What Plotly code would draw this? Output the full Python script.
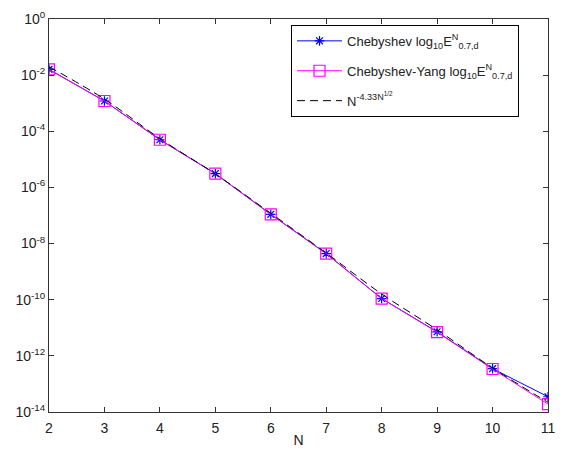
import plotly.graph_objects as go

N = [2, 3, 4, 5, 6, 7, 8, 9, 10, 11]
cheb = [1.6e-2, 1.2e-3, 5.0e-5, 3.1e-6, 1.1e-7, 4.4e-9, 1.1e-10, 7.2e-12, 3.5e-13, 3.5e-14]
yang = [1.6e-2, 1.2e-3, 5.0e-5, 3.1e-6, 1.1e-7, 4.4e-9, 1.1e-10, 7.0e-12, 3.4e-13, 1.9e-14]
ref = [2.0e-2, 1.4e-3, 5.5e-5, 3.0e-6, 1.2e-7, 4.6e-9, 1.6e-10, 8.5e-12, 3.7e-13, 2.2e-14]

ytick_vals = [1e0, 1e-2, 1e-4, 1e-6, 1e-8, 1e-10, 1e-12, 1e-14]
ytick_text = ["10<sup>0</sup>", "10<sup>-2</sup>", "10<sup>-4</sup>", "10<sup>-6</sup>",
              "10<sup>-8</sup>", "10<sup>-10</sup>", "10<sup>-12</sup>", "10<sup>-14</sup>"]

fig = go.Figure()
fig.add_trace(go.Scatter(
    x=N, y=cheb, mode="lines+markers", legendgroup="a",
    name="Chebyshev log<sub>10</sub>E<sup>N</sup><sub>0.7,d</sub>",
    line=dict(color="rgb(0,0,255)", width=1),
    marker=dict(symbol="asterisk-open", size=8, color="rgb(0,0,255)",
                line=dict(color="rgb(0,0,255)", width=1.2)),
))
fig.add_trace(go.Scatter(
    x=N, y=yang, mode="lines+markers", legendgroup="b",
    name="Chebyshev-Yang log<sub>10</sub>E<sup>N</sup><sub>0.7,d</sub>",
    line=dict(color="rgb(255,0,255)", width=1),
    marker=dict(symbol="square-open", size=11, color="rgb(255,0,255)",
                line=dict(color="rgb(255,0,255)", width=1.2)),
))
fig.add_trace(go.Scatter(
    x=N, y=ref, mode="lines", legendgroup="c",
    name="N<sup>-4.33N<sup>1/2</sup></sup>",
    line=dict(color="black", width=1, dash="8px,5px", shape="spline"),
))

axis_common = dict(
    showline=True, linecolor="#333", linewidth=1, mirror="ticks",
    ticks="inside", ticklen=5, tickcolor="#333", showgrid=False, zeroline=False,
    automargin=False, ticklabeloverflow="allow",
    tickfont=dict(family="Liberation Sans, Arial, sans-serif", size=14, color="#222"),
)

fig.update_layout(
    width=556, height=440,
    margin=dict(l=41, r=16, t=11, b=36, autoexpand=False),
    paper_bgcolor="white", plot_bgcolor="white",
    font=dict(family="Liberation Sans, Arial, sans-serif", size=13, color="#222"),
    xaxis=dict(range=[2, 11], tickvals=N, ticklabelstandoff=3,
               title=dict(text="N", standoff=6, font=dict(size=14)), **axis_common),
    yaxis=dict(type="log", range=[-14, 0], tickvals=ytick_vals, ticktext=ytick_text,
               **axis_common),
    legend=dict(x=0.485, y=0.985, xanchor="left", yanchor="top",
                bordercolor="black", borderwidth=1, bgcolor="white",
                font=dict(size=13), traceorder="grouped", tracegroupgap=10,
                itemwidth=45),
    showlegend=True,
)

fig.write_html("out.html")
